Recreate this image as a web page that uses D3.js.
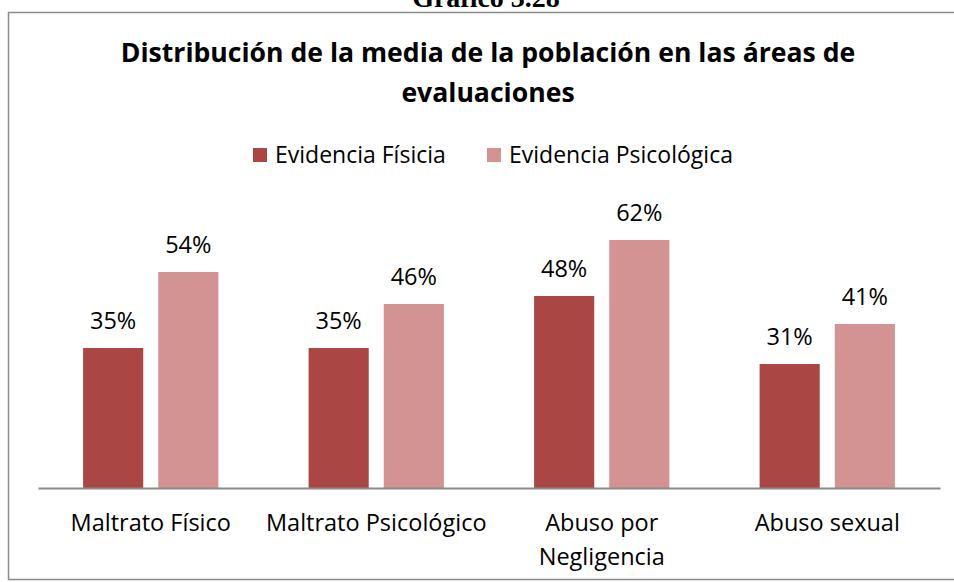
<!DOCTYPE html>
<html>
<head>
<meta charset="utf-8">
<script src="https://cdn.jsdelivr.net/npm/d3@7"></script>
<style>
  body { margin: 0; background: #fff; }
  text { font-family: "Open Sans", "Noto Sans", sans-serif; fill: #000; }
</style>
</head>
<body>
<div id="chart"></div>
<script>
"use strict"

// data
let categories = ["Maltrato Físico", "Maltrato Psicológico", "Abuso por Negligencia", "Abuso sexual"];
let tickLines = [["Maltrato Físico"], ["Maltrato Psicológico"], ["Abuso por", "Negligencia"], ["Abuso sexual"]];
let seriesNames = ["Evidencia Físicia", "Evidencia Psicológica"];
let fisica = [0.35, 0.35, 0.48, 0.31];
let psicologica = [0.54, 0.46, 0.62, 0.41];
let seriesColors = ["#aa4745", "#d39392"];

let width = 954,
    height = 582;

let svg = d3.select("#chart")
    .append("svg")
    .attr("width", width)
    .attr("height", height);

// caption above the box (cut off at the top, as in the source)
svg.append("text")
    .attr("x", 486)
    .attr("y", 7)
    .attr("text-anchor", "middle")
    .style("font-family", "'Liberation Serif', 'Times New Roman', serif")
    .style("font-weight", "bold")
    .style("font-size", "28px")
    .text("Gráfico 3.28");

// chart border
svg.append("rect")
    .attr("x", 8.5)
    .attr("y", 12.5)
    .attr("width", 960)
    .attr("height", 567)
    .attr("fill", "none")
    .attr("stroke", "#8a8a8a")
    .attr("stroke-width", 1.5);

// title
let title = svg.append("text")
    .attr("text-anchor", "middle")
    .style("font-weight", "bold")
    .style("font-size", "26.6px");
title.append("tspan").attr("x", 488).attr("y", 62)
    .text("Distribución de la media de la población en las áreas de");
title.append("tspan").attr("x", 488).attr("y", 102)
    .text("evaluaciones");

// legend
let legendX = [253, 487];
let legend = svg.selectAll(".legend")
    .data(seriesNames)
    .enter()
    .append("g")
    .attr("class", "legend")
    .attr("transform", function (d, i) {
        return "translate(" + legendX[i] + ",148)";
    });
legend.append("rect")
    .attr("width", 14)
    .attr("height", 14)
    .attr("fill", function (d, i) { return seriesColors[i]; });
legend.append("text")
    .attr("x", 22)
    .attr("y", 15)
    .style("font-size", "23px")
    .text(function (d) { return d; });

// scales
let x0 = d3.scaleBand()
    .domain(categories)
    .range([38, 940])
    .padding(0);

let x1 = d3.scaleBand()
    .domain(seriesNames)
    .range([x0.bandwidth() * 0.2, x0.bandwidth() * 0.8])
    .paddingInner(0.2);

let y = d3.scaleLinear()
    .domain([0, 0.7])
    .range([488, 208]);

let fmt = d3.format(".0%");

let rows = categories.map(function (c, i) {
    return {
        category: c,
        values: [
            { key: seriesNames[0], value: fisica[i], color: seriesColors[0] },
            { key: seriesNames[1], value: psicologica[i], color: seriesColors[1] }
        ]
    };
});

let groups = svg.selectAll(".group")
    .data(rows)
    .enter()
    .append("g")
    .attr("class", "group")
    .attr("transform", function (d) { return "translate(" + x0(d.category) + ",0)"; });

groups.selectAll("rect")
    .data(function (d) { return d.values; })
    .enter()
    .append("rect")
    .attr("x", function (d) { return x1(d.key); })
    .attr("y", function (d) { return y(d.value); })
    .attr("width", x1.bandwidth())
    .attr("height", function (d) { return y(0) - y(d.value); })
    .attr("fill", function (d) { return d.color; });

// data labels
groups.selectAll(".lbl")
    .data(function (d) { return d.values; })
    .enter()
    .append("text")
    .attr("class", "lbl")
    .attr("x", function (d) { return x1(d.key) + x1.bandwidth() / 2; })
    .attr("y", function (d) { return y(d.value) - 19; })
    .attr("text-anchor", "middle")
    .style("font-size", "23.5px")
    .text(function (d) { return fmt(d.value); });

// x axis
let xAxis = svg.append("g")
    .attr("transform", "translate(0," + y(0) + ")")
    .call(d3.axisBottom(x0).tickSize(0).tickSizeOuter(0).tickFormat(""));
xAxis.select(".domain")
    .attr("stroke", "#8a8a8a")
    .attr("stroke-width", 2);

xAxis.selectAll(".tick").each(function (d, i) {
    let t = d3.select(this).append("text")
        .attr("text-anchor", "middle")
        .attr("fill", "#000")
        .style("font-size", "23.5px");
    tickLines[i].forEach(function (line, j) {
        t.append("tspan")
            .attr("x", 0)
            .attr("y", 43 + j * 34)
            .text(line);
    });
});
</script>
</body>
</html>
